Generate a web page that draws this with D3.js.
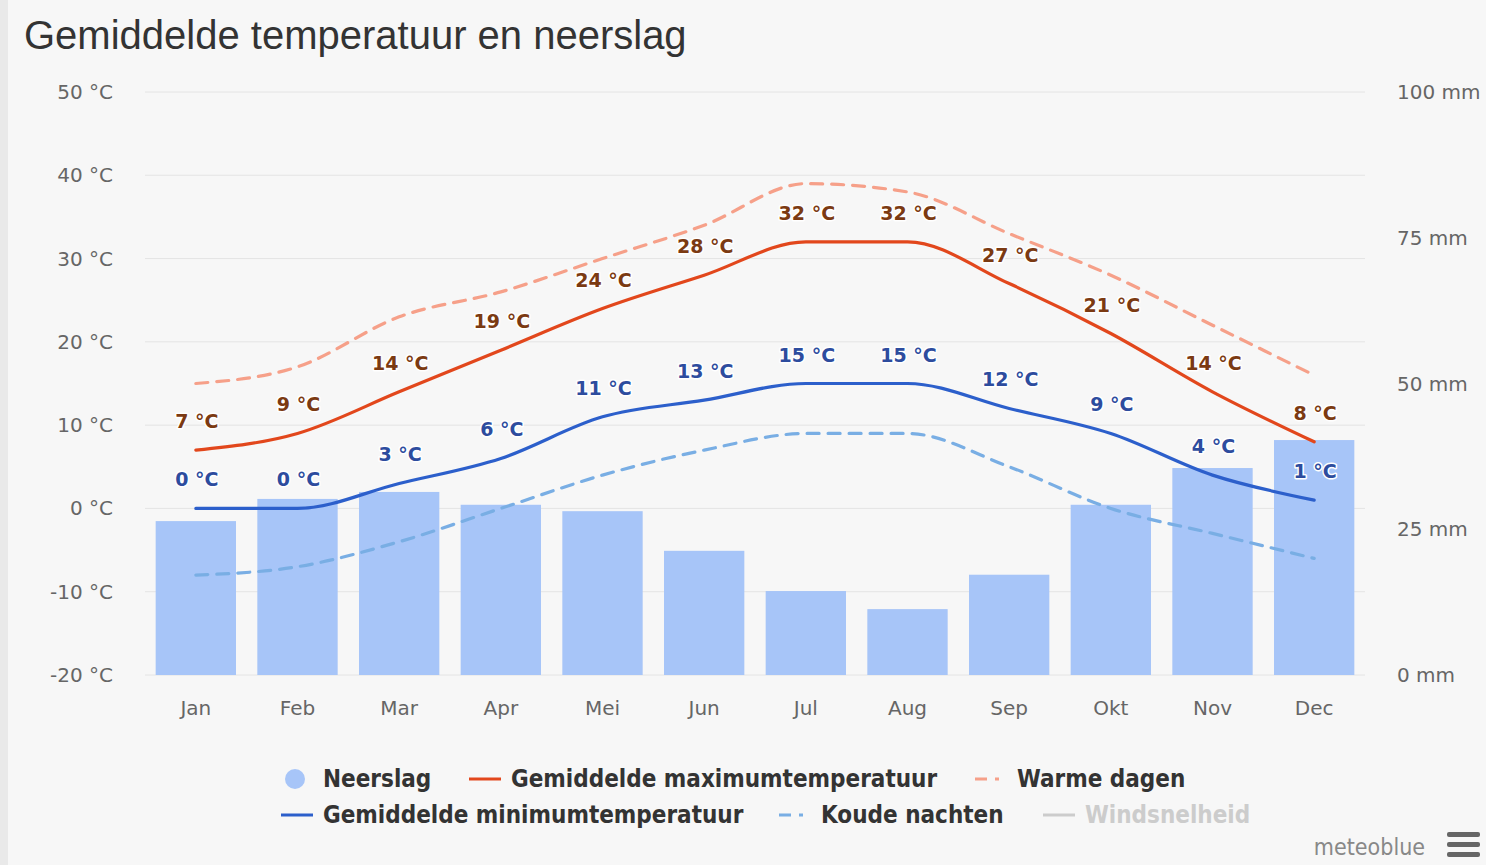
<!DOCTYPE html>
<html>
<head>
<meta charset="utf-8">
<script src="https://cdn.jsdelivr.net/npm/d3@7"></script>
<style>
  html, body { margin: 0; padding: 0; background: #f7f7f7; }
  svg { display: block; }
</style>
</head>
<body>
<svg id="chart" width="1486" height="865"></svg>
<script>
// chart data
const months = ["Jan", "Feb", "Mar", "Apr", "Mei", "Jun", "Jul", "Aug", "Sep", "Okt", "Nov", "Dec"];
const precipitation = [26.4, 30.2, 31.4, 29.2, 28.1, 21.3, 14.4, 11.3, 17.2, 29.2, 35.5, 40.3];
const maxTemp = [7, 9, 14, 19, 24, 28, 32, 32, 27, 21, 14, 8];
const minTemp = [0, 0, 3, 6, 11, 13, 15, 15, 12, 9, 4, 1];
const warmDays = [15, 17, 23, 26, 30, 34, 39, 38, 33, 28, 22, 16];
const coldNights = [-8, -7, -4, 0, 4, 7, 9, 9, 5, 0, -3, -6];
const tempTicks = [-20, -10, 0, 10, 20, 30, 40, 50];
const mmTicks = [0, 25, 50, 75, 100];

const legendRows = [
  [{ label: "Neerslag", type: "bar", x: 295 },
   { label: "Gemiddelde maximumtemperatuur", type: "max", x: 469 },
   { label: "Warme dagen", type: "warm", x: 975 }],
  [{ label: "Gemiddelde minimumtemperatuur", type: "min", x: 281 },
   { label: "Koude nachten", type: "cold", x: 779 },
   { label: "Windsnelheid", type: "wind", x: 1043 }]
];

const config = {
  margin: { top: 92, right: 121, bottom: 190, left: 145 },
  width: 1486,
  height: 865,
  colors: {
    bar: "#a7c5f8",
    max: "#e2471c",
    min: "#2c5fcb",
    warm: "#f6a089",
    cold: "#79aee4",
    wind: "#cccccc",
    maxLabel: "#7b3a12",
    minLabel: "#2d4c9e"
  }
};

const svg = d3.select("#chart");
const plotW = config.width - config.margin.left - config.margin.right;
const plotH = config.height - config.margin.top - config.margin.bottom;

// left border strip like the screenshot
svg.append("rect").attr("x", 0).attr("y", 0).attr("width", 8).attr("height", 865).attr("fill", "#e9e9e9");

svg.append("text")
  .attr("x", 24).attr("y", 49)
  .attr("font-family", "Liberation Sans, Arial, sans-serif")
  .attr("font-size", 40)
  .attr("fill", "#333")
  .text("Gemiddelde temperatuur en neerslag");

const g = svg.append("g").attr("transform", `translate(${config.margin.left},${config.margin.top})`);

const x = d3.scaleBand().domain(months).range([0, plotW]).paddingInner(0.21).paddingOuter(0.105);
const xc = d => x(d) + x.bandwidth() / 2;
const yT = d3.scaleLinear().domain([-20, 50]).range([plotH, 0]);
const yP = d3.scaleLinear().domain([0, 100]).range([plotH, 0]);

// gridlines
g.selectAll(".grid").data(tempTicks).join("line")
  .attr("class", "grid")
  .attr("x1", 0).attr("x2", plotW)
  .attr("y1", d => yT(d)).attr("y2", d => yT(d))
  .attr("stroke", "#e4e4e4").attr("stroke-width", 1);

const axisFont = "DejaVu Sans, sans-serif";

// left axis labels
g.selectAll(".ylab").data(tempTicks).join("text")
  .attr("class", "ylab")
  .attr("x", -32).attr("y", d => yT(d) + 7)
  .attr("text-anchor", "end")
  .attr("font-family", axisFont).attr("font-size", 20)
  .attr("fill", "#666")
  .text(d => `${d} °C`);

// right axis labels
g.selectAll(".ylab2").data(mmTicks).join("text")
  .attr("class", "ylab2")
  .attr("x", plotW + 32).attr("y", d => yP(d) + 7)
  .attr("font-family", axisFont).attr("font-size", 20)
  .attr("fill", "#666")
  .text(d => `${d} mm`);

// x labels
g.selectAll(".xlab").data(months).join("text")
  .attr("class", "xlab")
  .attr("x", d => xc(d)).attr("y", plotH + 40)
  .attr("text-anchor", "middle")
  .attr("font-family", axisFont).attr("font-size", 20)
  .attr("fill", "#666")
  .text(d => d);

// bars
g.selectAll(".bar").data(precipitation).join("rect")
  .attr("class", "bar")
  .attr("x", (d, i) => x(months[i]))
  .attr("width", x.bandwidth())
  .attr("y", d => yP(d))
  .attr("height", d => plotH - yP(d))
  .attr("fill", config.colors.bar);

const line = d3.line()
  .x((d, i) => xc(months[i]))
  .y(d => yT(d))
  .curve(d3.curveMonotoneX);

const series = [
  { data: warmDays, color: config.colors.warm, dash: "12,9" },
  { data: coldNights, color: config.colors.cold, dash: "12,9" },
  { data: maxTemp, color: config.colors.max, dash: null },
  { data: minTemp, color: config.colors.min, dash: null }
];

series.forEach(s => {
  g.append("path")
    .datum(s.data)
    .attr("d", line)
    .attr("fill", "none")
    .attr("stroke", s.color)
    .attr("stroke-width", 3.2)
    .attr("stroke-linecap", "round")
    .attr("stroke-dasharray", s.dash);
});

// data labels
const labelFont = "DejaVu Sans, sans-serif";
[{ data: maxTemp, color: config.colors.maxLabel }, { data: minTemp, color: config.colors.minLabel }].forEach(s => {
  g.selectAll(null).data(s.data).join("text")
    .attr("x", (d, i) => xc(months[i]) + 1)
    .attr("y", d => yT(d) - 22)
    .attr("text-anchor", "middle")
    .attr("font-family", labelFont).attr("font-size", 19).attr("font-weight", "bold")
    .attr("fill", s.color)
    .attr("stroke", "#fff").attr("stroke-width", 3).attr("stroke-linejoin", "round")
    .attr("paint-order", "stroke")
    .text(d => `${d} °C`);
});

// legend
const legendFont = "DejaVu Sans Condensed, DejaVu Sans, sans-serif";
legendRows.forEach((row, r) => {
  const ly = 779 + r * 36;
  row.forEach(item => {
    const lg = svg.append("g");
    let tx;
    if (item.type === "bar") {
      lg.append("circle").attr("cx", item.x).attr("cy", ly).attr("r", 10).attr("fill", config.colors.bar);
      tx = item.x + 28;
    } else {
      const dashed = item.type === "warm" || item.type === "cold";
      lg.append("line")
        .attr("x1", item.x).attr("x2", item.x + 32)
        .attr("y1", ly).attr("y2", ly)
        .attr("stroke", config.colors[item.type])
        .attr("stroke-width", 3)
        .attr("stroke-dasharray", dashed ? "12,8,4,8" : null);
      tx = item.x + 42;
    }
    lg.append("text")
      .attr("x", tx).attr("y", ly + 8)
      .attr("font-family", legendFont).attr("font-size", 24).attr("font-weight", "bold")
      .attr("fill", item.type === "wind" ? "#cccccc" : "#333")
      .text(item.label);
  });
});

// credits
svg.append("text")
  .attr("x", 1425).attr("y", 855)
  .attr("text-anchor", "end")
  .attr("font-family", legendFont).attr("font-size", 23)
  .attr("fill", "#888")
  .text("meteoblue");

svg.selectAll(".burger").data([0, 1, 2]).join("rect")
  .attr("class", "burger")
  .attr("x", 1447).attr("y", d => 832 + d * 10)
  .attr("width", 33).attr("height", 5).attr("rx", 2)
  .attr("fill", "#666");
</script>
</body>
</html>
